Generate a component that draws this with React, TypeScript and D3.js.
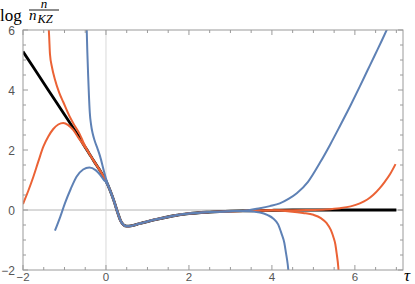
import * as d3 from "d3";

type Pt = [number, number];

// shared stretch where all solutions sit on top of each other
const commonMid: Pt[] = [
  [-0.42, 1.92], [-0.3, 1.65], [-0.15, 1.33], [-0.05, 1.1], [0.0, 0.97],
  [0.1, 0.65], [0.2, 0.27], [0.28, -0.08], [0.35, -0.35], [0.42, -0.49],
  [0.5, -0.54], [0.6, -0.53], [0.82, -0.45], [1.22, -0.31], [1.6, -0.2],
  [2.0, -0.12], [2.5, -0.07], [3.0, -0.04], [3.3, -0.03],
];
const flatTail: Pt[] = [[3.7, -0.02], [4.0, -0.01]];

const exactLeft: Pt[] = [[-2.0, 5.28], [-1.4, 4.02], [-0.8, 2.76], [-0.65, 2.44], [-0.55, 2.2]];
const exactRight: Pt[] = [[4.5, 0], [5.5, 0], [7.0, 0]];

const orangeUpLeft: Pt[] = [
  [-1.39, 6.3], [-1.37, 5.8], [-1.35, 5.2], [-1.3, 4.75], [-1.23, 4.35],
  [-1.13, 3.92], [-1.03, 3.6], [-0.87, 3.1], [-0.75, 2.8], [-0.63, 2.52], [-0.55, 2.27],
];
const orangeUpRight: Pt[] = [
  [4.5, -0.005], [4.84, 0.0], [5.3, 0.02], [5.64, 0.06], [5.9, 0.12], [6.12, 0.22],
  [6.3, 0.35], [6.44, 0.5], [6.6, 0.73], [6.72, 0.94], [6.85, 1.2], [6.98, 1.53],
];
const orangeLowLeft: Pt[] = [
  [-2.0, 0.2], [-1.87, 0.65], [-1.75, 1.11], [-1.63, 1.62], [-1.51, 2.11],
  [-1.39, 2.45], [-1.27, 2.7], [-1.15, 2.85], [-1.03, 2.9], [-0.91, 2.83],
  [-0.79, 2.67], [-0.67, 2.42], [-0.55, 2.18],
];
const orangeLowRight: Pt[] = [
  [4.43, -0.05], [4.75, -0.1], [5.0, -0.16], [5.18, -0.27], [5.32, -0.44],
  [5.42, -0.66], [5.48, -0.89], [5.53, -1.15], [5.56, -1.44], [5.6, -1.9], [5.62, -2.3],
];

const blueUpLeft: Pt[] = [
  [-0.47, 6.3], [-0.45, 5.3], [-0.43, 4.5], [-0.41, 3.8], [-0.39, 3.25],
  [-0.36, 2.85], [-0.32, 2.55], [-0.27, 2.3], [-0.2, 2.03], [-0.14, 1.78],
  [-0.05, 1.3], [0.0, 1.05],
];
const blueUpRight: Pt[] = [
  [3.71, 0.06], [3.95, 0.13], [4.19, 0.22], [4.4, 0.37], [4.6, 0.56], [4.87, 0.94],
  [5.16, 1.58], [5.4, 2.17], [5.64, 2.8], [5.9, 3.5], [6.12, 4.12], [6.3, 4.64],
  [6.48, 5.16], [6.65, 5.65], [6.8, 6.1],
];
const blueLowLeft: Pt[] = [
  [-1.23, -0.69], [-1.1, -0.22], [-0.99, 0.22], [-0.85, 0.7], [-0.71, 1.11],
  [-0.55, 1.35], [-0.4, 1.42], [-0.25, 1.33], [-0.14, 1.17], [-0.05, 1.0], [0.0, 0.93],
];
const blueLowRight: Pt[] = [
  [3.71, -0.08], [3.9, -0.17], [4.03, -0.28], [4.15, -0.48], [4.23, -0.78],
  [4.3, -1.1], [4.34, -1.44], [4.38, -1.8], [4.41, -2.2],
];

const xMajor = [-2, 0, 2, 4, 6];
const yMajor = [-2, 0, 2, 4, 6];

const ORANGE = "#EB6235";
const BLUE = "#5E81B5";
const FRAME = "#9a9a9a";
const LABEL = "#555";

export default function App() {
  const left = 23, right = 403, top = 30, bottom = 270;
  const x = d3.scaleLinear().domain([-2.0, 7.16]).range([left, right]);
  const y = d3.scaleLinear().domain([-2, 6]).range([bottom, top]);
  const line = d3
    .line<Pt>()
    .x((d) => x(d[0]))
    .y((d) => y(d[1]))
    .curve(d3.curveMonotoneX);

  const fromMid = (a: number) => commonMid.filter((p) => p[0] >= a);

  const exact = [...exactLeft, ...commonMid, ...flatTail, ...exactRight];
  const orangeA = [...orangeUpLeft, ...commonMid, ...flatTail, ...orangeUpRight];
  const orangeB = [...orangeLowLeft, ...commonMid, ...flatTail, ...orangeLowRight];
  const blueA = [...blueUpLeft, ...fromMid(0.1), ...blueUpRight];
  const blueB = [...blueLowLeft, ...fromMid(0.1), ...blueLowRight];

  const xMinor = d3.range(-2, 7.01, 0.5).filter((v) => !xMajor.includes(v));
  const yMinor = d3.range(-2, 6.01, 0.5).filter((v) => !yMajor.includes(v));
  const fmt = (v: number) => (v < 0 ? "\u2212" + Math.abs(v) : String(v));

  return (
    <div style={{ position: "fixed", left: 0, top: 0 }}>
      <svg width={415} height={284} style={{ display: "block", background: "#fff" }}>
        <defs>
          <clipPath id="plot">
            <rect x={left} y={top} width={right - left} height={bottom - top} />
          </clipPath>
        </defs>

        {/* axes through origin */}
        <line x1={left} x2={right} y1={y(0)} y2={y(0)} stroke="#b4b4b4" strokeWidth={1} />
        <line x1={x(0)} x2={x(0)} y1={top} y2={bottom} stroke="#d9d9d9" strokeWidth={1} />

        <g clipPath="url(#plot)" fill="none" strokeLinejoin="round" strokeLinecap="butt">
          <path d={line(exact) ?? ""} stroke="#000" strokeWidth={2.8} />
          <path d={line(orangeA) ?? ""} stroke={ORANGE} strokeWidth={2} />
          <path d={line(orangeB) ?? ""} stroke={ORANGE} strokeWidth={2} />
          <path d={line(blueA) ?? ""} stroke={BLUE} strokeWidth={2} />
          <path d={line(blueB) ?? ""} stroke={BLUE} strokeWidth={2} />
        </g>

        {/* frame */}
        <rect x={left} y={top} width={right - left} height={bottom - top} fill="none" stroke={FRAME} strokeWidth={1} />
        {xMajor.map((v) => (
          <g key={"xM" + v}>
            <line x1={x(v)} x2={x(v)} y1={bottom} y2={bottom - 5} stroke={FRAME} />
            <line x1={x(v)} x2={x(v)} y1={top} y2={top + 5} stroke={FRAME} />
            <text x={x(v)} y={281} textAnchor="middle" fontSize={11.5} fill={LABEL} fontFamily="Liberation Sans, Arial, sans-serif">
              {fmt(v)}
            </text>
          </g>
        ))}
        {xMinor.map((v) => (
          <g key={"xm" + v}>
            <line x1={x(v)} x2={x(v)} y1={bottom} y2={bottom - 3} stroke={FRAME} />
            <line x1={x(v)} x2={x(v)} y1={top} y2={top + 3} stroke={FRAME} />
          </g>
        ))}
        {yMajor.map((v) => (
          <g key={"yM" + v}>
            <line x1={left} x2={left + 5} y1={y(v)} y2={y(v)} stroke={FRAME} />
            <line x1={right} x2={right - 5} y1={y(v)} y2={y(v)} stroke={FRAME} />
            <text x={15} y={y(v) + 4.5} textAnchor="end" fontSize={12} fill={LABEL} fontFamily="Liberation Sans, Arial, sans-serif">
              {fmt(v)}
            </text>
          </g>
        ))}
        {yMinor.map((v) => (
          <g key={"ym" + v}>
            <line x1={left} x2={left + 3} y1={y(v)} y2={y(v)} stroke={FRAME} />
            <line x1={right} x2={right - 3} y1={y(v)} y2={y(v)} stroke={FRAME} />
          </g>
        ))}

        {/* axis labels */}
        <g fontFamily="Liberation Serif, Times New Roman, serif" fill="#000">
          <text x={0} y={21} fontSize={17}>log</text>
          <text x={44} y={8} fontSize={13} fontStyle="italic" textAnchor="middle">n</text>
          <line x1={29} x2={59} y1={10} y2={10} stroke="#000" strokeWidth={0.9} />
          <text x={29} y={20} fontSize={15} fontStyle="italic">n</text>
          <text x={37.5} y={23} fontSize={12.5} fontStyle="italic">KZ</text>
          <text x={404} y={281} fontSize={17} fontStyle="italic">τ</text>
        </g>
      </svg>
    </div>
  );
}
